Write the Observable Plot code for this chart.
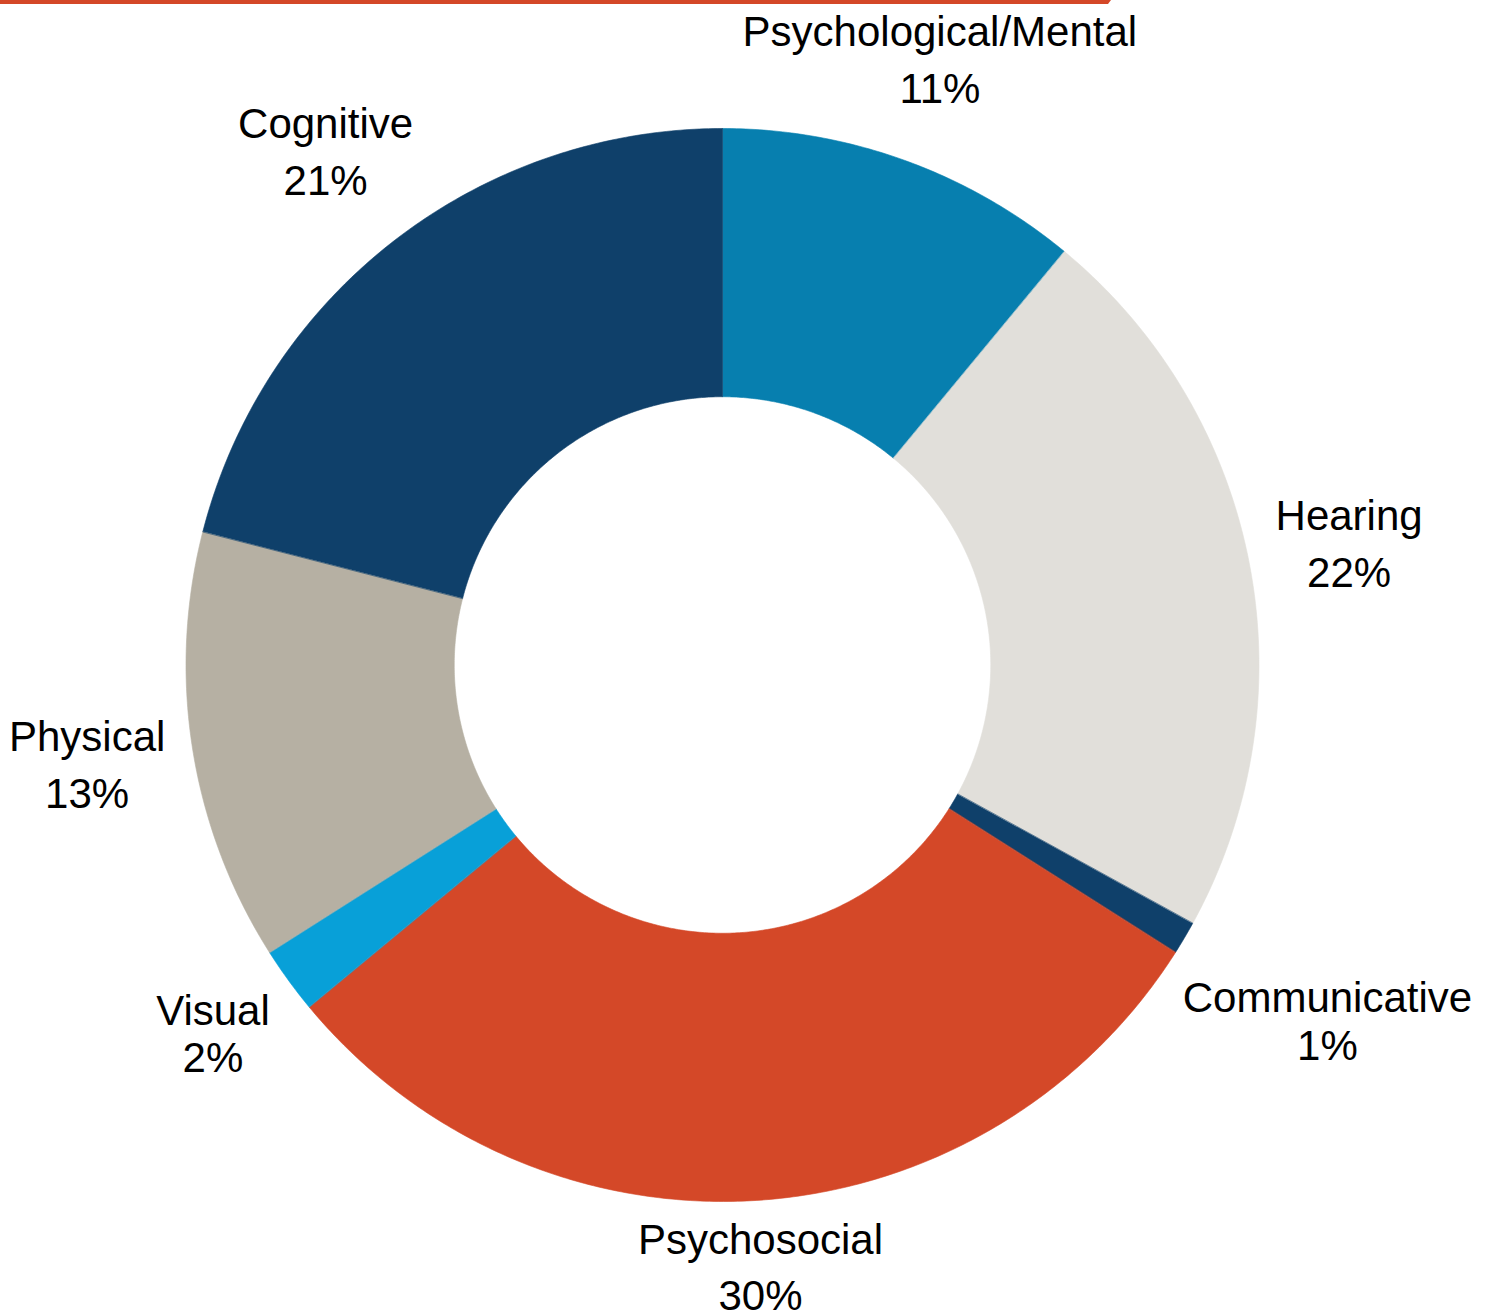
<!DOCTYPE html>
<html>
<head>
<meta charset="utf-8">
<script src="https://cdn.jsdelivr.net/npm/d3@7"></script>
<script src="https://cdn.jsdelivr.net/npm/@observablehq/plot@0.6"></script>
<style>
  html, body { margin: 0; padding: 0; background: #fff; }
  #wrap { position: relative; width: 1488px; height: 1316px; }
  #topbar { position: absolute; left: 0; top: 0; width: 1111px; height: 4px; background: #D44828;
            clip-path: polygon(0 0, 100% 0, calc(100% - 3px) 100%, 0 100%); }
</style>
</head>
<body>
<div id="wrap"><div id="chart"></div><div id="topbar"></div></div>
<script>
// ---- data ----
const categories = ["Psychological/Mental", "Hearing", "Communicative", "Psychosocial", "Visual", "Physical", "Cognitive"];
const percents = [11, 22, 1, 30, 2, 13, 21];

// ---- style / layout ----
const sliceColors = ["#077FAF", "#E1DFDA", "#0F406A", "#D44828", "#08A0D8", "#B6B0A3", "#0F406A"];
const labelLayout = { // radius factor (relative to outer radius) and line gap in px
  "Psychological/Mental": {r: 1.196, gap: 57},
  "Hearing": {r: 1.189, gap: 57},
  "Communicative": {r: 1.310, gap: 48},
  "Psychosocial": {r: 1.127, gap: 56},
  "Visual": {r: 1.174, gap: 47},
  "Physical": {r: 1.199, gap: 57},
  "Cognitive": {r: 1.207, gap: 57}
};
const W = 1488, H = 1316, CX = 722, CY = 664.5, RPX = 536.5, INNER = 0.5;

const data = categories.map((c, i) => ({category: c, value: percents[i]}));
const arcs = d3.pie().value(d => d.value).sort(null).startAngle(0).endAngle(2 * Math.PI)(data);

// polygon points for each donut slice (angle clockwise from top, y up)
const pts = [];
for (const a of arcs) {
  const n = Math.max(4, Math.ceil((a.endAngle - a.startAngle) / (Math.PI / 360)));
  const outer = d3.range(n + 1).map(k => a.startAngle + (a.endAngle - a.startAngle) * k / n);
  for (const t of outer) pts.push({category: a.data.category, x: Math.sin(t), y: Math.cos(t)});
  for (const t of outer.slice().reverse()) pts.push({category: a.data.category, x: INNER * Math.sin(t), y: INNER * Math.cos(t)});
}

const nameLabels = [], pctLabels = [];
for (const a of arcs) {
  const mid = (a.startAngle + a.endAngle) / 2;
  const L = labelLayout[a.data.category];
  const x = L.r * Math.sin(mid), y = L.r * Math.cos(mid);
  const half = L.gap / 2 / RPX;
  nameLabels.push({x, y: y + half, text: a.data.category});
  pctLabels.push({x, y: y - half, text: a.data.value + "%"});
}

const chart = Plot.plot({
  width: W, height: H,
  margin: 0,
  x: {domain: [-CX / RPX, (W - CX) / RPX], axis: null},
  y: {domain: [-(H - CY) / RPX, CY / RPX], axis: null},
  color: {domain: categories, range: sliceColors},
  style: {fontFamily: "'Liberation Sans', Arial, sans-serif", background: "white"},
  marks: [
    Plot.line(pts, {x: "x", y: "y", z: "category", fill: "category", stroke: "category", strokeWidth: 0.6, curve: "linear-closed"}),
    Plot.text(nameLabels, {x: "x", y: "y", text: "text", fontSize: 42, fill: "#000", textAnchor: "middle", lineAnchor: "middle"}),
    Plot.text(pctLabels, {x: "x", y: "y", text: "text", fontSize: 42, fill: "#000", textAnchor: "middle", lineAnchor: "middle"})
  ]
});
document.getElementById("chart").appendChild(chart);
</script>
</body>
</html>
